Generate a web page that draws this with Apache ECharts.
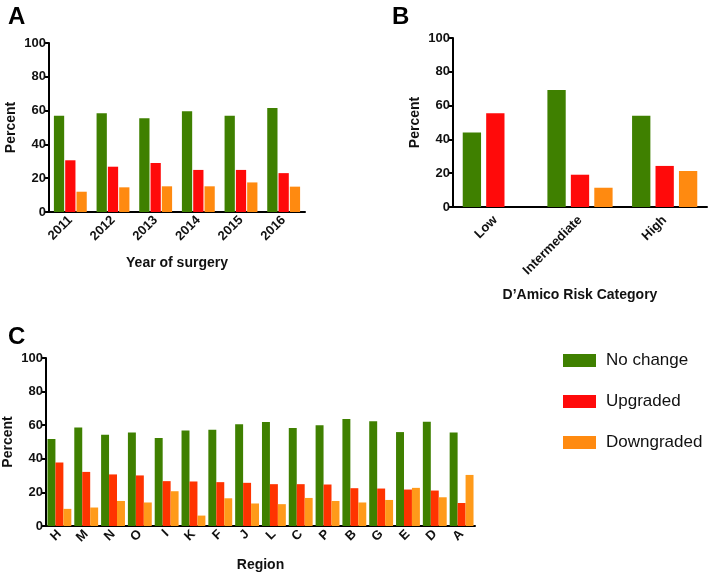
<!DOCTYPE html>
<html>
<head>
<meta charset="utf-8">
<script src="https://cdn.jsdelivr.net/npm/echarts@6/dist/echarts.min.js"></script>
<style>html,body{margin:0;padding:0;background:#fff}#c{width:709px;height:574px}</style>
</head>
<body>
<div id="c"></div>
<script>
// Panel A
const yearCats = ['2011', '2012', '2013', '2014', '2015', '2016'];
const yearNoChange = [57.0, 58.4, 55.4, 59.6, 57.0, 61.5];
const yearUpgraded = [30.6, 26.8, 29.0, 24.9, 24.9, 23.0];
const yearDowngraded = [12.0, 14.6, 15.2, 15.2, 17.5, 15.0];
// Panel B
const riskCats = ['Low', 'Intermediate', 'High'];
const riskNoChange = [44.1, 69.2, 54.0];
const riskUpgraded = [55.4, 19.1, 24.3];
const riskDowngraded = [0, 11.4, 21.3];
// Panel C
const regionCats = ['H','M','N','O','I','K','F','J','L','C','P','B','G','E','D','A'];
const regionNoChange = [51.8, 58.7, 54.3, 55.7, 52.4, 56.9, 57.3, 60.5, 61.9, 58.3, 59.9, 63.7, 62.3, 55.9, 62.1, 55.7];
const regionUpgraded = [37.8, 32.2, 30.7, 30.1, 26.7, 26.5, 26.1, 25.7, 24.9, 24.9, 24.7, 22.5, 22.3, 21.7, 21.1, 13.7];
const regionDowngraded = [10.2, 11.0, 14.9, 14.0, 20.7, 6.2, 16.5, 13.4, 13.0, 16.7, 14.9, 14.0, 15.5, 22.7, 17.1, 30.4];
const yTicks = [0, 20, 40, 60, 80, 100];

const FONT = "'Liberation Sans', Arial, Helvetica, sans-serif";
const GREEN = '#3f8000', RED = '#ff0a0a', ORANGE = '#ff8a10';
const RED_C = '#ff3300', ORANGE_C = '#ff9a1a';

function xAxis(gridIndex, cats, name, nameGap, margin) {
  return {
    type: 'category', gridIndex, data: cats,
    name, nameLocation: 'middle', nameGap, nameMoveOverlap: false,
    nameTextStyle: { fontFamily: FONT, fontWeight: 'bold', fontSize: 14, color: '#111' },
    axisLine: { lineStyle: { color: '#000', width: 2 } },
    axisTick: { alignWithLabel: true, length: 4, lineStyle: { color: '#000', width: 2 } },
    axisLabel: { rotate: 45, margin, fontFamily: FONT, fontWeight: 'bold', fontSize: 13, color: '#111' }
  };
}
function yAxis(gridIndex) {
  return {
    type: 'value', gridIndex, min: 0, max: 100, interval: 20,
    name: 'Percent', nameLocation: 'middle', nameGap: 31, nameRotate: 90, nameMoveOverlap: false,
    nameTextStyle: { fontFamily: FONT, fontWeight: 'bold', fontSize: 14, color: '#111' },
    axisLine: { show: true, lineStyle: { color: '#000', width: 2 } },
    axisTick: { show: true, length: 4, lineStyle: { color: '#000', width: 2 } },
    splitLine: { show: false },
    axisLabel: { margin: 3, fontFamily: FONT, fontWeight: 'bold', fontSize: 13, color: '#111',
      formatter: v => yTicks.includes(v) ? String(v) : '' }
  };
}
function bars(name, data, x, color, catGap, gap) {
  return { type: 'bar', name, data, xAxisIndex: x, yAxisIndex: x,
    itemStyle: { color }, barCategoryGap: catGap, barGap: gap, animation: false };
}
const titleStyle = { fontFamily: FONT, fontWeight: 'bold', fontSize: 24, color: '#000' };

const option = {
  animation: false,
  title: [
    { text: 'A', left: 3, top: 0, textStyle: titleStyle },
    { text: 'B', left: 387, top: 0, textStyle: titleStyle },
    { text: 'C', left: 3, top: 320, textStyle: titleStyle }
  ],
  legend: {
    left: 558, top: 347, orient: 'vertical', itemWidth: 33, itemHeight: 13, itemGap: 24,
    icon: 'rect',
    data: ['No change', 'Upgraded', 'Downgraded'],
    textStyle: { fontFamily: FONT, fontSize: 17, color: '#111', padding: [0, 0, 0, 5] }
  },
  grid: [
    { left: 49, top: 43, width: 256, height: 169, outerBoundsMode: 'none' },
    { left: 453, top: 38, width: 254, height: 169, outerBoundsMode: 'none' },
    { left: 46, top: 358, width: 429, height: 168, outerBoundsMode: 'none' }
  ],
  xAxis: [
    xAxis(0, yearCats, 'Year of surgery', 44, 6),
    xAxis(1, riskCats, 'D\u2019Amico Risk Category', 81, 11),
    xAxis(2, regionCats, 'Region', 32, 6)
  ],
  yAxis: [yAxis(0), yAxis(1), yAxis(2)],
  series: [
    bars('No change', yearNoChange, 0, GREEN, '23%', '10%'),
    bars('Upgraded', yearUpgraded, 0, RED, '23%', '10%'),
    bars('Downgraded', yearDowngraded, 0, ORANGE, '23%', '10%'),
    bars('No change', riskNoChange, 1, GREEN, '23%', '28%'),
    bars('Upgraded', riskUpgraded, 1, RED, '23%', '28%'),
    bars('Downgraded', riskDowngraded, 1, ORANGE, '23%', '28%'),
    bars('No change', regionNoChange, 2, GREEN, '11%', '0%'),
    bars('Upgraded', regionUpgraded, 2, RED_C, '11%', '0%'),
    bars('Downgraded', regionDowngraded, 2, ORANGE_C, '11%', '0%')
  ]
};
const chart = echarts.init(document.getElementById('c'), null, { renderer: 'canvas' });
chart.setOption(option);
</script>
</body>
</html>
